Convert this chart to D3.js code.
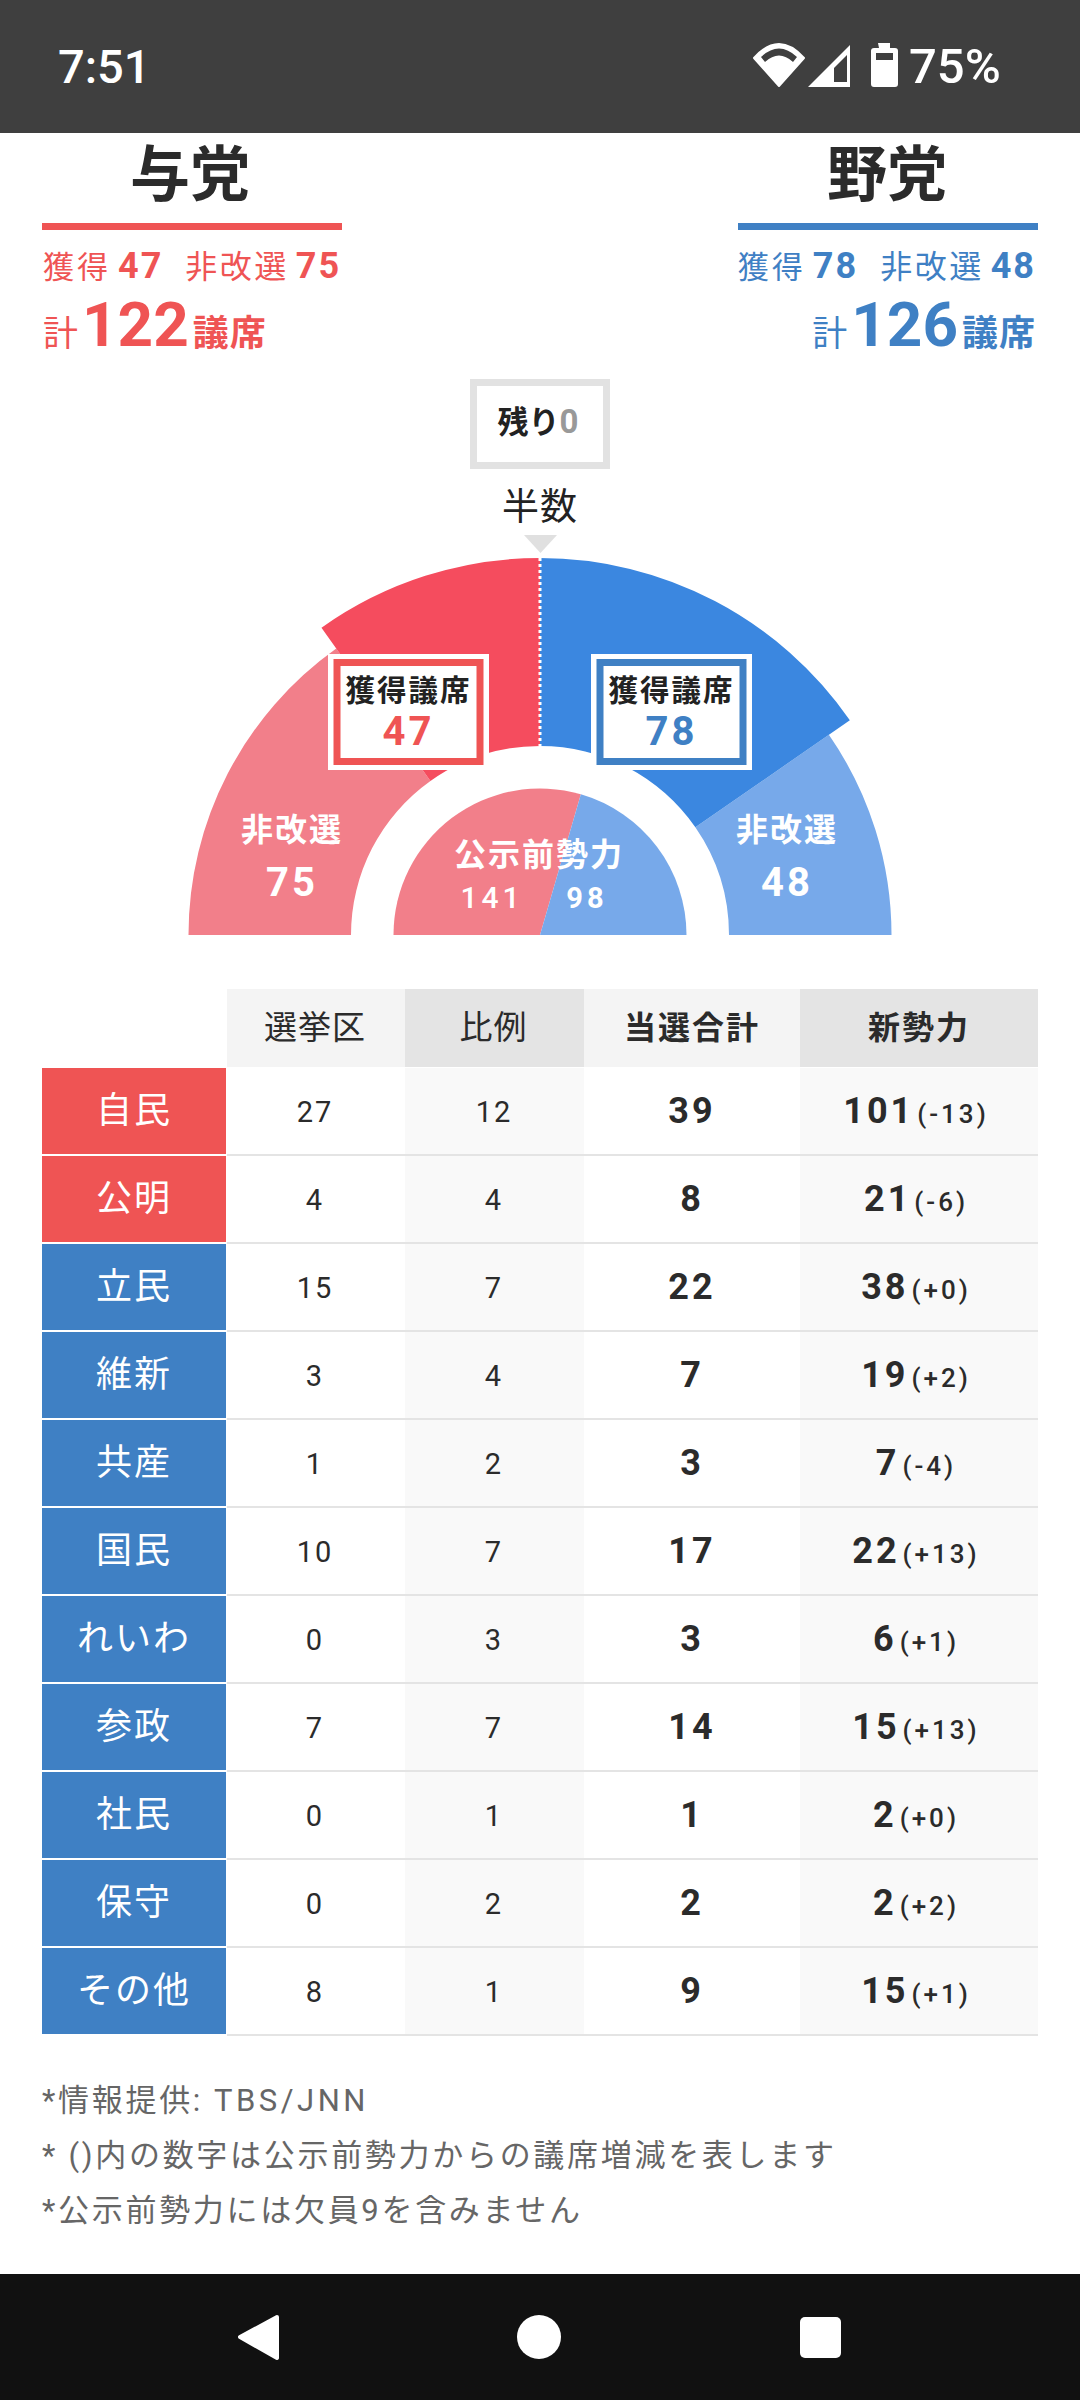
<!DOCTYPE html>
<html lang="ja">
<head>
<meta charset="utf-8">
<script src="https://cdn.jsdelivr.net/npm/d3@7/dist/d3.min.js"></script>
<style>
html,body{margin:0;padding:0;background:#fff;}
svg{display:block;}
text{font-family:Roboto,"Noto Sans CJK JP",sans-serif;}
</style>
</head>
<body>
<svg id="c" width="1080" height="2400" viewBox="0 0 1080 2400"></svg>
<script>
// ---- data ----
const blocs = ["与党", "野党"];
const blocWon = [47, 78];
const blocHold = [75, 48];
const blocTotal = [122, 126];
const arcSpan = [119.4, 127];
const remaining = [0];
const prePower = [141, 98];
const parties = ["自民","公明","立民","維新","共産","国民","れいわ","参政","社民","保守","その他"];
const partyBloc = [0,0,1,1,1,1,1,1,1,1,1];
const district = [27,4,15,3,1,10,0,7,0,0,8];
const proportional = [12,4,7,4,2,7,3,7,1,2,1];
const wonTotal = [39,8,22,7,3,17,3,14,1,2,9];
const newPower = [101,21,38,19,7,22,6,15,2,2,15];
const powerDelta = ["(-13)","(-6)","(+0)","(+2)","(-4)","(+13)","(+1)","(+13)","(+0)","(+2)","(+1)"];
const headers = ["選挙区","比例","当選合計","新勢力"];
const notes = ["*情報提供:TBS/JNN","* ()内の数字は公示前勢力からの議席増減を表します","*公示前勢力には欠員9を含みません"];

// ---- style ----
const RED="#ef5454", BLUE="#3f80c4";
const arcRed="#f54c5e", arcBlue="#3b87e0", softRed="#f27f8a", softBlue="#77a9ea";
const INK="#2b2b2b";
const svg=d3.select("#c");

function label(g,x,y,runs,anchor){
  const t=g.append("text").attr("x",x).attr("y",y).attr("text-anchor",anchor||"middle");
  runs.forEach(r=>{
    const s=t.append("tspan").text(r.t).attr("font-size",r.s).attr("font-weight",r.w||400)
      .attr("fill",r.c||INK).attr("letter-spacing",r.l==null?0:r.l);
    if(r.dx) s.attr("dx",r.dx);
  });
  return t;
}

// status bar
const statusBar=svg.append("g");
statusBar.append("rect").attr("width",1080).attr("height",133).attr("fill","#3f3f3f");
label(statusBar,58,83,[{t:"7:51",s:47,w:500,c:"#fff"}],"start");
label(statusBar,909,83,[{t:"75%",s:49,w:500,c:"#fff"}],"start");
statusBar.append("path").attr("fill","#fff").attr("stroke","#fff").attr("stroke-width",2).attr("stroke-linejoin","round")
  .attr("d","M754 58 Q779 30 804 58 L779 86Z");
statusBar.append("path").attr("fill","#3f3f3f")
  .attr("d","M761 57 Q779 40 797 57 L793 62 Q779 49 765 62Z");
statusBar.append("path").attr("fill","#fff").attr("d","M808 87 L850 45 L850 87Z");
statusBar.append("path").attr("fill","#3f3f3f").attr("d","M834 68 L847 55 L847 82 L834 82Z");
statusBar.append("path").attr("fill","#fff").attr("d","M878 43 h12 v5 h5 a3 3 0 0 1 3 3 v33 a3 3 0 0 1 -3 3 h-21 a3 3 0 0 1 -3 -3 v-33 a3 3 0 0 1 3 -3 h5Z");
statusBar.append("rect").attr("x",876).attr("y",53).attr("width",17).attr("height",7).attr("fill","#3f3f3f");

// nav bar
const nav=svg.append("g");
nav.append("rect").attr("y",2274).attr("width",1080).attr("height",126).attr("fill","#111");
nav.append("path").attr("fill","#fff").attr("stroke","#fff").attr("stroke-width",4).attr("stroke-linejoin","round")
  .attr("d","M277 2317 L240 2337 L277 2358Z");
nav.append("circle").attr("cx",539).attr("cy",2337).attr("r",22).attr("fill","#fff");
nav.append("rect").attr("x",800).attr("y",2317).attr("width",41).attr("height",41).attr("rx",5).attr("fill","#fff");

// bloc headers
const sideX=d3.scaleOrdinal().domain(blocs).range([42,738]);
const sideW=300;
blocs.forEach((b,i)=>{
  const col=i?BLUE:RED, x0=sideX(b), g=svg.append("g");
  label(g,x0+sideW/2-(i?1:2),196,[{t:b,s:60,w:700}]);
  g.append("rect").attr("x",x0).attr("y",223).attr("width",sideW).attr("height",7).attr("fill",col);
  label(g,i?x0+298:x0+1,278,[
    {t:"獲得",s:31,w:400,c:col,l:3},
    {t:blocWon[i],s:36,w:700,c:col,l:2,dx:7},
    {t:"非改選",s:32,w:400,c:col,l:2.5,dx:22},
    {t:blocHold[i],s:36,w:700,c:col,l:2,dx:7}
  ],i?"end":"start");
  label(g,i?x0+298:x0+1,346,[
    {t:"計",s:35,w:400,c:col},
    {t:blocTotal[i],s:62,w:700,c:col,dx:4},
    {t:"議席",s:36,w:700,c:col,dx:4,l:1}
  ],i?"end":"start");
});

// remaining box
svg.append("rect").attr("x",473.5).attr("y",382.5).attr("width",133).attr("height",83)
  .attr("fill","#fff").attr("stroke","#e2e2e2").attr("stroke-width",7);
label(svg,538,433,[{t:"残り",s:31,w:700,c:"#222"},{t:remaining[0],s:33,w:700,c:"#999"}]);
label(svg,540,520,[{t:"半数",s:37,w:400,c:"#222",l:1}]);
svg.append("path").attr("fill","#e0e0e0").attr("d",d3.line()([[524,535],[557,535],[540.5,553]])+"Z");

// hemicycle
const cx=540, cy=935;
const hemi=svg.append("g").attr("transform",`translate(${cx},${cy})`);
const angle=[
  d3.scaleLinear().domain([0,arcSpan[0]]).range([0,-Math.PI/2]),
  d3.scaleLinear().domain([0,arcSpan[1]]).range([0,Math.PI/2])
];
const rSoft=351.5, rWon=377, rHole=189, rPre=146.5;
const arc=d3.arc();
[0,1].forEach(i=>{
  hemi.append("path").attr("fill",i?softBlue:softRed).attr("d",arc({
    innerRadius:rHole,outerRadius:rSoft,
    startAngle:angle[i](blocWon[i]),endAngle:(i?1:-1)*Math.PI/2}));
});
[0,1].forEach(i=>{
  hemi.append("path").attr("fill",i?arcBlue:arcRed).attr("d",arc({
    innerRadius:rHole,outerRadius:rWon,
    startAngle:angle[i](0),endAngle:angle[i](blocWon[i])}));
});
hemi.append("line").attr("x1",0).attr("x2",0).attr("y1",-rWon).attr("y2",-rHole)
  .attr("stroke","#fff").attr("stroke-width",3).attr("stroke-dasharray","3 3");
const pie=d3.pie().sort(null).startAngle(-Math.PI/2).endAngle(Math.PI/2);
hemi.selectAll("path.pre").data(pie(prePower)).join("path").attr("class","pre")
  .attr("fill",(d,i)=>i?softBlue:softRed)
  .attr("d",d=>arc({innerRadius:0,outerRadius:rPre,startAngle:d.startAngle,endAngle:d.endAngle}));

const WHITE="#fff";
[[291,0],[786,1]].forEach(([x,i])=>{
  label(svg,x+1,841,[{t:"非改選",s:32,w:700,c:WHITE,l:2}]);
  label(svg,x+1,896,[{t:blocHold[i],s:40,w:700,c:WHITE,l:3}]);
});
label(svg,539,866,[{t:"公示前勢力",s:32,w:700,c:WHITE,l:2}]);
label(svg,492,908,[{t:prePower[0],s:30,w:500,c:WHITE,l:4}]);
label(svg,587,908,[{t:prePower[1],s:29,w:700,c:WHITE,l:4}]);

[[408.5,0],[671.5,1]].forEach(([x,i])=>{
  const col=i?BLUE:RED;
  svg.append("rect").attr("x",x-80.5).attr("y",654).attr("width",161).attr("height",116).attr("fill","#fff");
  svg.append("rect").attr("x",x-71.5).attr("y",662.5).attr("width",143).attr("height",99)
    .attr("fill","#fff").attr("stroke",col).attr("stroke-width",7);
  label(svg,x,701,[{t:"獲得議席",s:29.5,w:700,c:"#222",l:2}]);
  label(svg,x,745,[{t:blocWon[i],s:40,w:700,c:col,l:3}]);
});

// table
const columnEdges=[227,405,584,800,1038];
const rowY=d3.scaleBand().domain(parties).range([1068,2036]);
const headY=989, headH=78;
const table=svg.append("g");
headers.forEach((h,j)=>{
  const x=columnEdges[j], w=columnEdges[j+1]-x;
  table.append("rect").attr("x",x).attr("y",headY).attr("width",w).attr("height",headH)
    .attr("fill",j%2?"#e4e4e4":"#f4f4f4");
  label(table,x+w/2-(j<2?1:0),1039,[{t:h,s:j<2?33:32,w:j>1?700:400,c:INK,l:j>1?2:1}]);
  if(j%2) table.append("rect").attr("x",x).attr("y",1068).attr("width",w).attr("height",968).attr("fill","#f9f9f9");
});
parties.forEach((p,i)=>{
  const y=rowY(p), h=rowY.bandwidth(), mid=y+h/2;
  table.append("rect").attr("x",42).attr("y",y).attr("width",184).attr("height",h-2).attr("fill",partyBloc[i]?BLUE:RED);
  table.append("rect").attr("x",227).attr("y",y+h-2).attr("width",811).attr("height",2).attr("fill","#e4e4e4");
  label(table,134,mid+11,[{t:p,s:36,w:400,c:"#fff",l:2}]);
  label(table,(columnEdges[0]+columnEdges[1])/2-1,mid+10,[{t:district[i],s:29,w:400,c:INK,l:2}]);
  label(table,(columnEdges[1]+columnEdges[2])/2-0.5,mid+10,[{t:proportional[i],s:29,w:400,c:INK,l:2}]);
  label(table,(columnEdges[2]+columnEdges[3])/2,mid+11,[{t:wonTotal[i],s:36,w:700,c:INK,l:3}]);
  label(table,(columnEdges[3]+columnEdges[4])/2-3,mid+11,[
    {t:newPower[i],s:36,w:700,c:INK,l:3},
    {t:powerDelta[i],s:26,w:500,c:INK,l:3,dx:3}
  ]);
});

// notes
const noteY=d3.scalePoint().domain(notes).range([2111,2221]);
notes.forEach(n=>{
  const parts=n.split(/(?<=:)/);
  label(svg,42,noteY(n),parts.map((t,k)=>({t,s:31,w:400,c:"#666",l:k?3.5:2.7,dx:k?11:0})),"start");
});
</script>
</body>
</html>
